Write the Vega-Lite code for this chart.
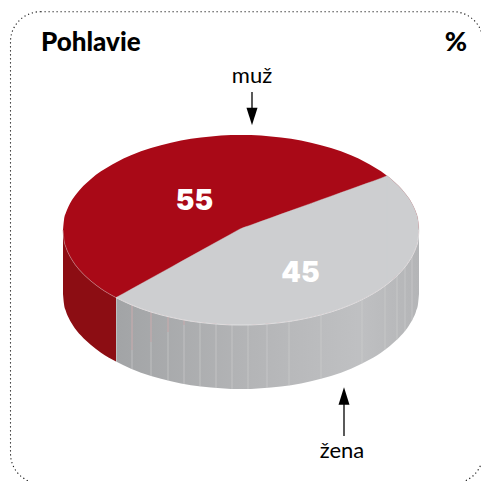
{"$schema":"https://vega.github.io/schema/vega-lite/v6.json","width":481,"height":481,"padding":0,"autosize":"none","background":"white","view":{"stroke":null},"config":{"axis":{"domain":false,"grid":false,"ticks":false,"labels":false,"title":null}},
"datasets":{
"rim":[{"x":-178,"top":0,"rim":0,"base":64},{"x":-177,"top":-10.1,"rim":10.1,"base":74.1},{"x":-175,"top":-17.4,"rim":17.4,"base":81.4},{"x":-172,"top":-24.5,"rim":24.5,"base":88.5},{"x":-168,"top":-31.4,"rim":31.4,"base":95.4},{"x":-160,"top":-41.6,"rim":41.6,"base":105.6},{"x":-150,"top":-51.1,"rim":51.1,"base":115.1},{"x":-140,"top":-58.7,"rim":58.7,"base":122.7},{"x":-125,"top":-67.6,"rim":67.6,"base":131.6},{"x":-110,"top":-74.7,"rim":74.7,"base":138.7},{"x":-90,"top":-82,"rim":82,"base":146},{"x":-70,"top":-87.3,"rim":87.3,"base":151.3},{"x":-50,"top":-91.2,"rim":91.2,"base":155.2},{"x":-30,"top":-93.6,"rim":93.6,"base":157.6},{"x":-10,"top":-94.9,"rim":94.9,"base":158.9},{"x":0,"top":-95,"rim":95,"base":159},{"x":10,"top":-94.9,"rim":94.9,"base":158.9},{"x":30,"top":-93.6,"rim":93.6,"base":157.6},{"x":50,"top":-91.2,"rim":91.2,"base":155.2},{"x":70,"top":-87.3,"rim":87.3,"base":151.3},{"x":90,"top":-82,"rim":82,"base":146},{"x":110,"top":-74.7,"rim":74.7,"base":138.7},{"x":125,"top":-67.6,"rim":67.6,"base":131.6},{"x":140,"top":-58.7,"rim":58.7,"base":122.7},{"x":146,"top":-54.3,"rim":54.3,"base":118.3},{"x":150,"top":-51.1,"rim":51.1,"base":115.1},{"x":160,"top":-41.6,"rim":41.6,"base":105.6},{"x":168,"top":-31.4,"rim":31.4,"base":95.4},{"x":172,"top":-24.5,"rim":24.5,"base":88.5},{"x":175,"top":-17.4,"rim":17.4,"base":81.4},{"x":177,"top":-10.1,"rim":10.1,"base":74.1},{"x":178,"top":0,"rim":0,"base":64}],
"spine":[{"x":-125,"edge":67.6,"rim":67.6},{"x":-110,"edge":59.3,"rim":74.7},{"x":-90,"edge":48.2,"rim":82},{"x":-70,"edge":37.2,"rim":87.3},{"x":-50,"edge":26.1,"rim":91.2},{"x":-30,"edge":15,"rim":93.6},{"x":-10,"edge":4,"rim":94.9},{"x":-1,"edge":-1,"rim":95},{"x":10,"edge":-5,"rim":94.9},{"x":30,"edge":-12.2,"rim":93.6},{"x":50,"edge":-19.4,"rim":91.2},{"x":70,"edge":-26.6,"rim":87.3},{"x":90,"edge":-33.8,"rim":82},{"x":110,"edge":-41,"rim":74.7},{"x":125,"edge":-46.4,"rim":67.6},{"x":140,"edge":-51.8,"rim":58.7},{"x":146,"edge":-54.3,"rim":54.3}],
"ribs":[{"x":-124.5,"rim":68,"base":132},{"x":-109,"rim":75.1,"base":139.1},{"x":-90,"rim":82,"base":146},{"x":-73,"rim":86.6,"base":150.6},{"x":-57,"rim":90,"base":154},{"x":-41,"rim":92.4,"base":156.4},{"x":-25,"rim":94.1,"base":158.1},{"x":-9,"rim":94.9,"base":158.9},{"x":7,"rim":94.9,"base":158.9},{"x":26,"rim":94,"base":158},{"x":48,"rim":91.5,"base":155.5},{"x":80,"rim":84.9,"base":148.9},{"x":121,"rim":69.7,"base":133.7},{"x":144,"rim":55.8,"base":119.8},{"x":156,"rim":45.7,"base":109.7},{"x":164,"rim":36.9,"base":100.9},{"x":171,"rim":26.4,"base":90.4}],
"ribTint":[{"x":-109,"rim":75.1,"end":120},{"x":-90,"rim":82,"end":112},{"x":-73,"rim":86.6,"end":102},{"x":-57,"rim":90,"end":95}]
},
"encoding":{"x":{"field":"x","type":"quantitative","scale":{"domain":[-241,240]},"axis":null}},
"layer":[
{"data":{"name":"rim"},"mark":{"type":"area","color":"#a90917","interpolate":"monotone"},"encoding":{"y":{"field":"top","type":"quantitative","scale":{"domain":[-230,251],"reverse":true},"axis":null},"y2":{"field":"rim"}}},
{"data":{"name":"rim"},"transform":[{"filter":"datum.x <= -125"}],"mark":{"type":"area","color":"#8c0d13","interpolate":"monotone"},"encoding":{"y":{"field":"rim","type":"quantitative","scale":{"domain":[-230,251],"reverse":true},"axis":null},"y2":{"field":"base"}}},
{"data":{"name":"rim"},"transform":[{"filter":"datum.x >= -125"}],"mark":{"type":"area","interpolate":"monotone","color":{"gradient":"linear","x1":0,"y1":0,"x2":1,"y2":0,"stops":[{"offset":0,"color":"#a2a4a6"},{"offset":0.45,"color":"#b4b5b7"},{"offset":0.8,"color":"#bfc0c2"},{"offset":1,"color":"#b4b5b7"}]}},"encoding":{"y":{"field":"rim","type":"quantitative","scale":{"domain":[-230,251],"reverse":true},"axis":null},"y2":{"field":"base"}}},
{"data":{"name":"ribs"},"mark":{"type":"rule","color":"#d0d1d2","strokeWidth":0.6},"encoding":{"y":{"field":"rim","type":"quantitative","scale":{"domain":[-230,251],"reverse":true},"axis":null},"y2":{"field":"base"}}},
{"data":{"name":"ribTint"},"mark":{"type":"rule","color":"#c49a9c","strokeWidth":0.7},"encoding":{"y":{"field":"rim","type":"quantitative","scale":{"domain":[-230,251],"reverse":true},"axis":null},"y2":{"field":"end"}}},
{"data":{"name":"spine"},"mark":{"type":"area","color":"#cdced0","stroke":"#cdced0","strokeWidth":0.4,"interpolate":"monotone"},"encoding":{"y":{"field":"edge","type":"quantitative","scale":{"domain":[-230,251],"reverse":true},"axis":null},"y2":{"field":"rim"}}},
{"data":{"name":"rim"},"transform":[{"filter":"datum.x >= 146"}],"mark":{"type":"area","color":"#cdced0","stroke":"#cdced0","strokeWidth":0.4,"interpolate":"monotone"},"encoding":{"y":{"field":"top","type":"quantitative","scale":{"domain":[-230,251],"reverse":true},"axis":null},"y2":{"field":"rim"}}},
{"data":{"name":"rim"},"transform":[{"filter":"datum.x <= -125"}],"mark":{"type":"line","color":"#c98a8e","strokeWidth":0.6,"interpolate":"monotone"},"encoding":{"y":{"field":"rim","type":"quantitative","scale":{"domain":[-230,251],"reverse":true},"axis":null}}},
{"data":{"name":"rim"},"transform":[{"filter":"datum.x >= -125"}],"mark":{"type":"line","color":"#e8e8e9","strokeWidth":0.7,"interpolate":"monotone"},"encoding":{"y":{"field":"rim","type":"quantitative","scale":{"domain":[-230,251],"reverse":true},"axis":null}}},
{"data":{"values":[{"x":11,"from":-138,"to":-120},{"x":103,"from":172,"to":206}]},"mark":{"type":"rule","color":"#000","strokeWidth":1.3},"encoding":{"y":{"field":"from","type":"quantitative","scale":{"domain":[-230,251],"reverse":true},"axis":null},"y2":{"field":"to"}}},
{"data":{"values":[{"x":11,"y":-113.5}]},"mark":{"type":"point","filled":true,"color":"#000","opacity":1,"size":121,"shape":"M-1,-1.6L1,-1.6L0,1.6Z"},"encoding":{"y":{"field":"y","type":"quantitative","scale":{"domain":[-230,251],"reverse":true},"axis":null}}},
{"data":{"values":[{"x":103,"y":166}]},"mark":{"type":"point","filled":true,"color":"#000","opacity":1,"size":121,"shape":"M-1,1.6L1,1.6L0,-1.6Z"},"encoding":{"y":{"field":"y","type":"quantitative","scale":{"domain":[-230,251],"reverse":true},"axis":null}}},
{"data":{"values":[{"label":"Pohlavie","x":-200,"y":-179}]},"mark":{"type":"text","align":"left","baseline":"alphabetic","font":"Lato","fontWeight":900,"fontSize":26,"color":"#000"},"encoding":{"y":{"field":"y","type":"quantitative","scale":{"domain":[-230,251],"reverse":true},"axis":null},"text":{"field":"label"}}},
{"data":{"values":[{"label":"%","x":226,"y":-179}]},"mark":{"type":"text","align":"right","baseline":"alphabetic","font":"Lato","fontWeight":900,"fontSize":27,"color":"#000"},"encoding":{"y":{"field":"y","type":"quantitative","scale":{"domain":[-230,251],"reverse":true},"axis":null},"text":{"field":"label"}}},
{"data":{"values":[{"label":"muž","x":11,"y":-147},{"label":"žena","x":101,"y":228}]},"mark":{"type":"text","align":"center","baseline":"alphabetic","font":"Lato","fontSize":22,"color":"#000"},"encoding":{"y":{"field":"y","type":"quantitative","scale":{"domain":[-230,251],"reverse":true},"axis":null},"text":{"field":"label"}}},
{"data":{"values":[{"label":"55","x":-46.5,"y":-20},{"label":"45","x":59.5,"y":52}]},"mark":{"type":"text","align":"center","baseline":"alphabetic","font":"Inter","fontWeight":900,"fontSize":28,"color":"#fff"},"encoding":{"y":{"field":"y","type":"quantitative","scale":{"domain":[-230,251],"reverse":true},"axis":null},"text":{"field":"label"}}},
{"data":{"values":[{"x":-230.5,"x2":242,"y":-218.3,"y2":253.5}]},"mark":{"type":"rect","clip":true,"fill":null,"fillOpacity":0,"stroke":"#111","strokeWidth":1.1,"strokeDash":[1.2,2.8],"cornerRadius":30},"encoding":{"x2":{"field":"x2"},"y":{"field":"y","type":"quantitative","scale":{"domain":[-230,251],"reverse":true},"axis":null},"y2":{"field":"y2"}}}
]}
